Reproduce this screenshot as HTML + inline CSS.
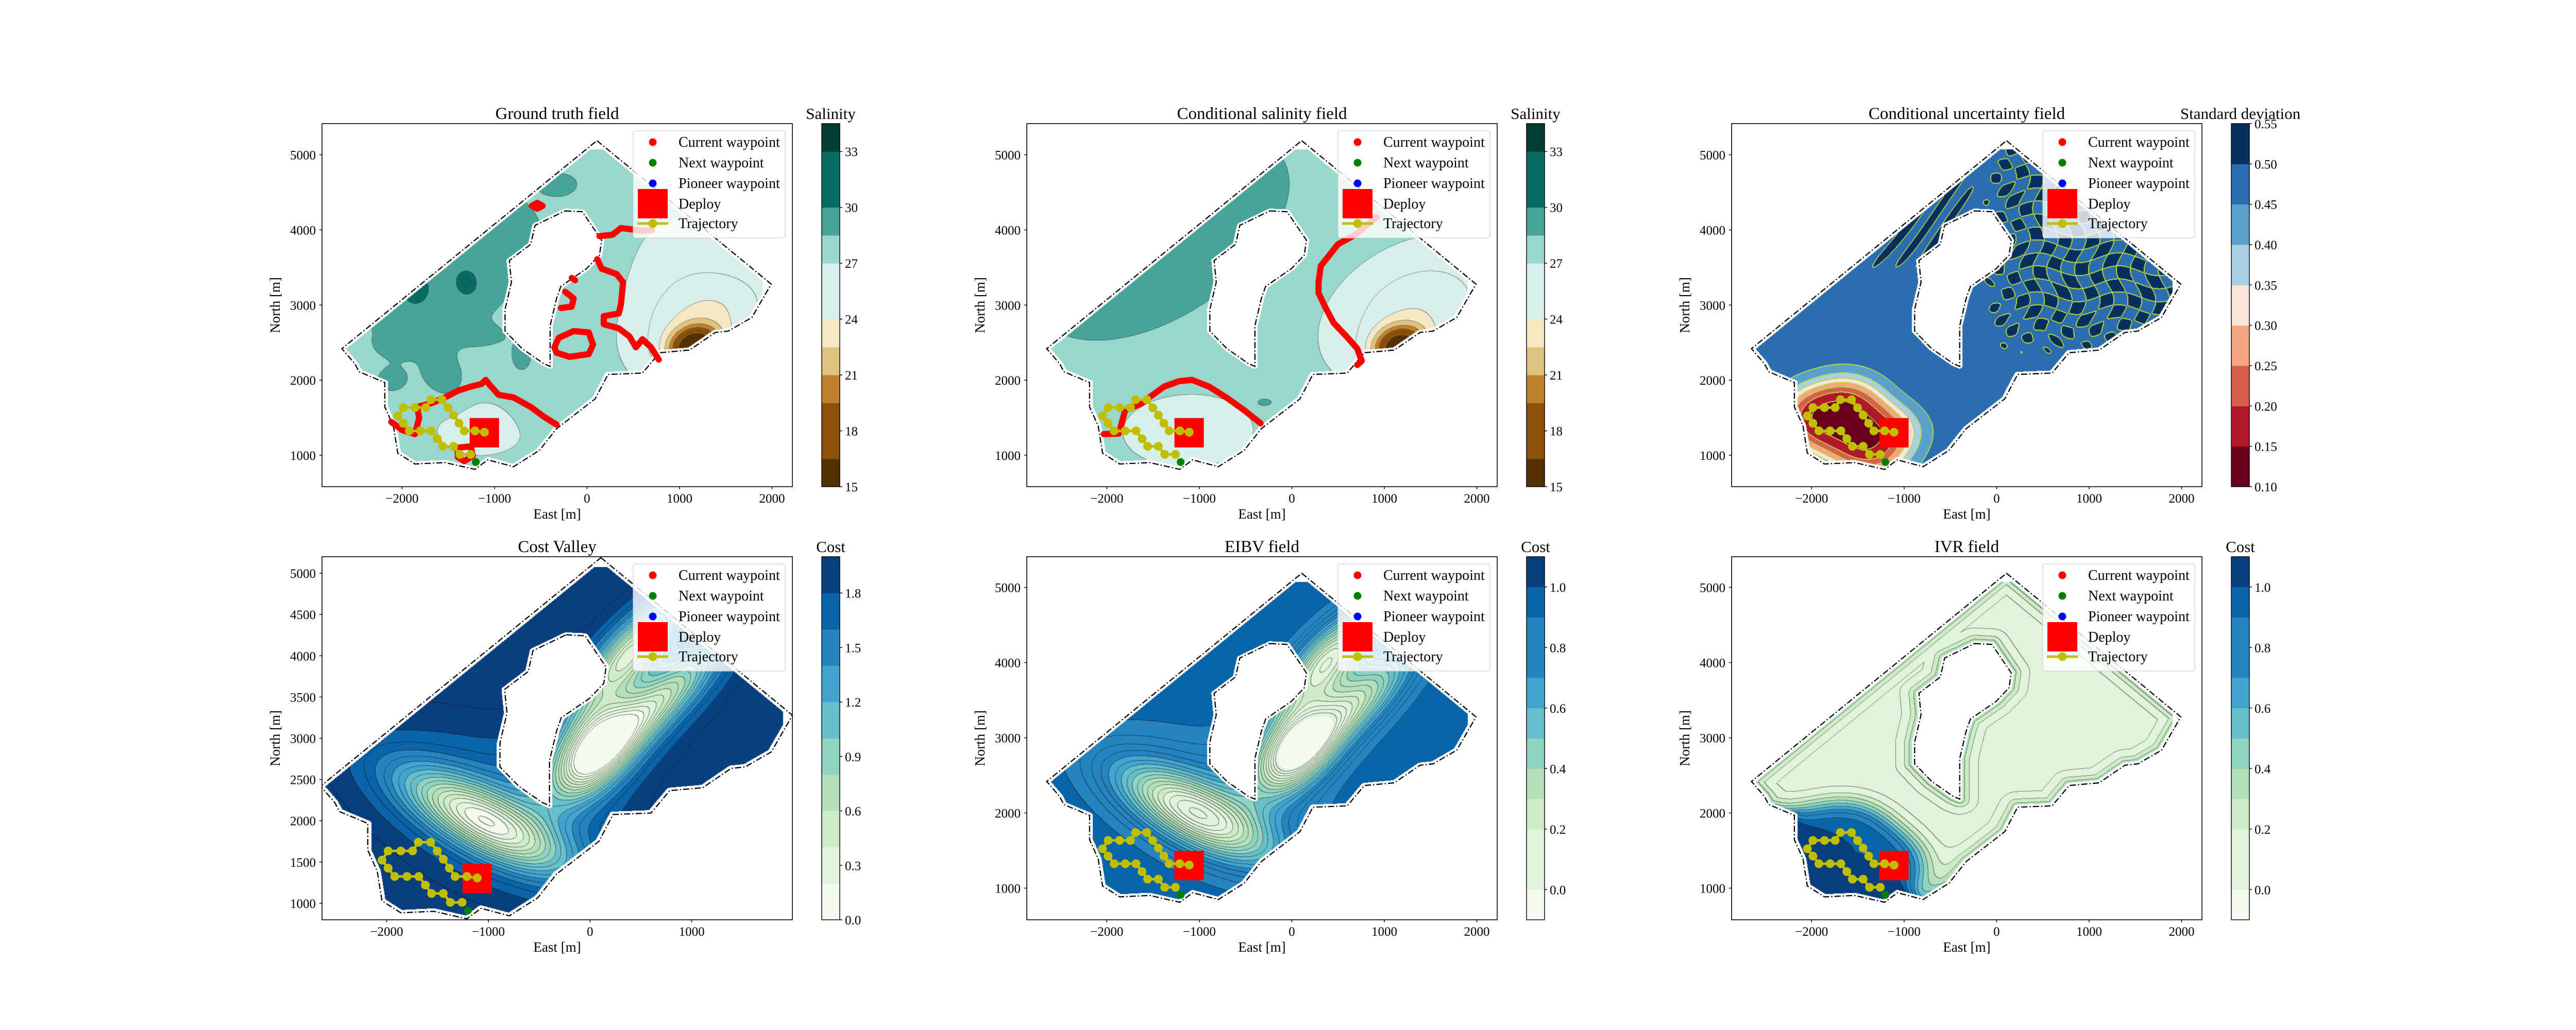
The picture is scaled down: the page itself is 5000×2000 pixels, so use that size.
<!DOCTYPE html>
<html><head><meta charset="utf-8">
<style>
html,body{margin:0;padding:0;background:#fff;}
#wrap{position:relative;width:5000px;height:2000px;overflow:hidden;}
#fld{position:absolute;left:0;top:0;}
#ov{position:absolute;left:0;top:0;}
text{font-family:"Liberation Serif","DejaVu Serif",serif;fill:#000;}
</style></head>
<body>
<div id="wrap">
<canvas id="fld" width="5000" height="2000"></canvas>
<svg id="ov" width="5000" height="2000" xmlns="http://www.w3.org/2000/svg"></svg>
</div>
<script>
// ---------- data ----------
const OUTER=[[107,5188],[1991,3278],[1782,2834],[1527,2653],[1387,2635],[1109,2401],[784,2365],[599,2094],[227,2076],[88,1751],[-329,1354],[-515,1065],[-794,848],[-1072,939],[-1211,812],[-1536,903],[-1861,884],[-2046,1029],[-2093,1390],[-2186,1643],[-2186,1968],[-2464,2112],[-2510,2220],[-2650,2419]];
const HOLE=[[-237,4253],[-51,4242],[158,3863],[135,3664],[-5,3484],[-283,3249],[-329,3087],[-399,2726],[-399,2184],[-469,2220],[-701,2419],[-886,2653],[-886,2942],[-817,3303],[-840,3592],[-608,3809],[-562,4061]];
const TRAJ_E=[-1109,-1211,-1327,-1383,-1443,-1503,-1568,-1689,-1745,-1861,-1986,-2046,-1986,-1921,-1800,-1684,-1619,-1559,-1443,-1374,-1258];
const TRAJ_N=[1307,1325,1325,1426,1534,1632,1740,1740,1635,1635,1635,1523,1426,1325,1325,1325,1220,1119,1119,1011,1011];
const DEPLOY=[-1110,1300];
const NEXT_WP=[-1202,910];
const LEGEND_LABELS=['Current waypoint','Next waypoint','Pioneer waypoint','Deploy','Trajectory'];
const GT_RED=[
 [[-2116,1444],[-2000,1336],[-1861,1282],[-1814,1498],[-1838,1643],[-1675,1697],[-1536,1769],[-1397,1859],[-1258,1913],[-1142,1949],[-1095,2004],[-1049,1931],[-956,1805],[-794,1769],[-608,1643],[-469,1516],[-329,1408]],
 [[-1397,1101],[-1258,1119],[-1234,993],[-1327,921],[-1397,975],[-1397,1101]],
 [[111,3610],[158,3484],[320,3412],[390,3303],[367,3014],[343,2888],[181,2852],[181,2744],[343,2690],[459,2581],[529,2437],[599,2545],[691,2437],[775,2274]],
 [[135,3917],[274,3935],[367,4025],[483,4007],[599,3989],[700,3995]],
 [[-329,2365],[-190,2310],[19,2347],[65,2473],[19,2635],[-144,2653],[-306,2563],[-353,2437],[-329,2365]],
 [[-237,3177],[-144,3087],[-167,2978],[-283,2960]],
 [[-165,3360],[-130,3330]],
 [[-538,4360],[-480,4321],[-538,4282],[-596,4321],[-538,4360]]
];
const CS_RED=[
 [[-2033,1282],[-1870,1289],[-1824,1498],[-1801,1606],[-1638,1679],[-1522,1787],[-1382,1913],[-1220,1986],[-1080,2004],[-894,1913],[-708,1769],[-522,1606],[-337,1426]],
 [[917,4170],[685,3935],[499,3809],[406,3664],[313,3520],[289,3303],[289,3159],[359,2978],[452,2762],[592,2581],[708,2419],[755,2256],[708,2202]]
];
// field bumps: [E, N, amplitude, sigmaU, sigmaV, angleDeg]
const GT_BUMPS=[[1170,2430,-13,190,170,40],[1350,2800,-3.2,600,400,40],[1000,3250,-1.5,500,900,0],[-1150,1350,-1.6,450,330,0],
 [-1500,3400,1.3,600,350,50],[-1900,2800,1.0,300,250,0],[-2100,2000,1.0,150,150,0],[-1650,2200,1.0,120,300,0],[-1000,3750,1.0,200,300,0],
 [-300,4600,1.0,200,150,0],[-1150,2600,0.9,250,150,0],[-700,2300,0.8,120,180,0],[-550,1600,1.0,150,300,30],[-1700,3700,1.0,250,300,0],[-1100,4300,0.8,200,200,0],[-1300,3300,3,60,80,0],
 [-2000,2450,1.0,200,120,0],[-1450,1950,1.0,130,250,0],[-1200,3050,1.0,250,150,30],[-1900,3200,1.0,150,150,0],[-700,4000,0.9,150,250,0],[-250,4000,1.0,120,150,0]];
const CS_BUMPS=[[-1400,3900,1.7,1500,850,45],[-1150,1350,-1.8,500,350,0],[1170,2430,-12,200,180,40],[1350,2900,-3.4,650,500,40],[-300,1700,1.5,100,60,0]];
const CV_VALLEYS=[[-1050,2000,1.45,650,240,-35],[50,2850,1.75,430,230,60],[400,4050,1.4,550,180,55],[700,3450,1.1,650,180,50],[-900,2100,0.4,900,500,-35],[250,3300,0.35,900,400,55]];
const EI_VALLEYS=[[-1050,2000,0.7,650,260,-35],[50,2850,0.85,430,240,60],[400,4050,0.68,550,200,55],[700,3450,0.5,650,200,50],[-900,2100,0.2,900,500,-35],[250,3300,0.2,900,400,55]];
const SAL_BANDS=[[15,16.5,'#543005'],[16.5,19.5,'#8c510a'],[19.5,21,'#bf812d'],[21,22.5,'#dfc27d'],[22.5,24,'#f6e8c3'],[24,27,'#d8eeeb'],[27,28.5,'#99d7cd'],[28.5,30,'#48a398'],[30,33,'#076b63'],[33,34.5,'#023c32']];
const STD_BANDS=[[0.10,0.15,'#67001f'],[0.15,0.20,'#b2182b'],[0.20,0.25,'#d6604d'],[0.25,0.30,'#f4a582'],[0.30,0.35,'#f9e4da'],[0.35,0.40,'#a9cfe5'],[0.40,0.45,'#5aa0cd'],[0.45,0.50,'#2a6db0'],[0.50,0.55,'#08305f']];
const CV_BANDS=[[0,0.2,'#f4fbee'],[0.2,0.4,'#e0f3db'],[0.4,0.6,'#cdebc6'],[0.6,0.8,'#b3e0bb'],[0.8,1.0,'#8fd4c2'],[1.0,1.2,'#66bfcb'],[1.2,1.4,'#41a5cf'],[1.4,1.6,'#2484bf'],[1.6,1.8,'#0a64a8'],[1.8,2.0,'#0a3f7f']];
const EI_BANDS=[[-0.1,0.0,'#f4fbee'],[0.0,0.2,'#e0f3db'],[0.2,0.3,'#cdebc6'],[0.3,0.4,'#b3e0bb'],[0.4,0.5,'#8fd4c2'],[0.5,0.6,'#66bfcb'],[0.6,0.7,'#41a5cf'],[0.7,0.9,'#2484bf'],[0.9,1.0,'#0a64a8'],[1.0,1.1,'#0a3f7f']];
const SAL_TICKS=[15,18,21,24,27,30,33];
const STD_TICKS=[0.10,0.15,0.20,0.25,0.30,0.35,0.40,0.45,0.50,0.55];
const CV_TICKS=[0.0,0.3,0.6,0.9,1.2,1.5,1.8];
const EI_TICKS=[0.0,0.2,0.4,0.6,0.8,1.0];
const X_TICKS=[-2000,-1000,0,1000,2000];
const X_TICKS_CV=[-2000,-1000,0,1000];
const Y_TICKS=[1000,2000,3000,4000,5000];
const Y_TICKS_CV=[1000,1500,2000,2500,3000,3500,4000,4500,5000];
const SAL_LINES=[16.5,18,19.5,21,22.5,24,25.5,27,28.5,30,31.5,33];
const STD_LINES=[0.15,0.2,0.25,0.3,0.35,0.4,0.45,0.5];
const CV_LINES=[0.1,0.2,0.3,0.4,0.5,0.6,0.7,0.8,0.9,1.0,1.1,1.2,1.3,1.4,1.5,1.6,1.7,1.8,1.9];
const EI_LINES=[0.05,0.1,0.15,0.2,0.25,0.3,0.35,0.4,0.45,0.5,0.55,0.6,0.65,0.7,0.75,0.8,0.85,0.9,0.95,1.0];
const IVR_LINES=[0.1,0.2,0.3,0.4,0.5,0.6,0.7,0.8,0.9,1.0];

// ---------- helpers ----------
const rad=Math.PI/180;
const prep=B=>B.map(b=>({e:b[0],n:b[1],a:b[2],su:2*b[3]*b[3],sv:2*b[4]*b[4],c:Math.cos(b[5]*rad),s:Math.sin(b[5]*rad)}));
function bumps(E,N,P){let t=0;for(const b of P){const dx=E-b.e,dy=N-b.n;const u=dx*b.c+dy*b.s,v=-dx*b.s+dy*b.c;t+=b.a*Math.exp(-(u*u/b.su+v*v/b.sv));}return t;}
function inPoly(x,y,P){let c=false;for(let i=0,j=P.length-1;i<P.length;j=i++){const xi=P[i][0],yi=P[i][1],xj=P[j][0],yj=P[j][1];if(((yi>y)!=(yj>y))&&(x<(xj-xi)*(y-yi)/(yj-yi)+xi))c=!c;}return c;}
function segD2(x,y,P){let m=Infinity;for(let i=0,j=P.length-1;i<P.length;j=i++){const ax=P[j][0],ay=P[j][1],dx=P[i][0]-ax,dy=P[i][1]-ay;let t=((x-ax)*dx+(y-ay)*dy)/(dx*dx+dy*dy);t=t<0?0:t>1?1:t;const ex=ax+t*dx-x,ey=ay+t*dy-y,d=ex*ex+ey*ey;if(d<m)m=d;}return m;}
const hex=h=>[parseInt(h.substr(1,2),16),parseInt(h.substr(3,2),16),parseInt(h.substr(5,2),16)];
function trajSum(E,N,sig2){let s=0;for(let k=0;k<TRAJ_E.length;k++){const dx=E-TRAJ_E[k],dy=N-TRAJ_N[k];s+=Math.exp(-(dx*dx+dy*dy)/sig2);}return s;}
const sg=x=>1/(1+Math.exp(-x));

const pGT=prep(GT_BUMPS),pCS=prep(CS_BUMPS),pCV=prep(CV_VALLEYS),pEI=prep(EI_VALLEYS);
const FIELDS={
 gt:(E,N)=>27.9+bumps(E,N,pGT),
 cs:(E,N)=>27.6+bumps(E,N,pCS),
 std:(E,N,d)=>{
   const nz=Math.sin(E/48+1.3*Math.sin(N/130))*Math.sin(N/55+1.2*Math.cos(E/140));
   const m1=sg((E+150)/120)*sg((N-2350)/150);
   const nz2=Math.sin((N-1.6*E)/55+0.8*Math.sin(E/200));
   const m2=sg((N-3500)/120)*sg((-E-250)/80)*sg((450-d)/60);
   let f=0.47+0.06*Math.max(m1*(0.5+0.5*nz),m2*(0.5+0.5*nz2));
   const s=trajSum(E,N,2*200*200);
   return f-0.38*(1-Math.exp(-0.35*s));
 },
 cv:(E,N)=>1.95-bumps(E,N,pCV),
 ei:(E,N)=>0.95-bumps(E,N,pEI),
 ivr:(E,N,d)=>{const s=trajSum(E,N,2*240*240);return 0.03+0.45*Math.exp(-d/110)+0.97*(1-Math.exp(-0.7*s));}
};

const TOP=[240,945],BOT=[1081,1786];
const XR=[-2865,2220],YR=[582,5415],YR2=[579,5408];
const PANELS=[
 {key:'gt',name:'ground-truth-panel',title:'Ground truth field',ax:[625,TOP[0],1538,TOP[1]],xr:XR,yr:YR,bands:SAL_BANDS,cbr:[15,34.5],ticks:SAL_TICKS,dec:0,cbl:'Salinity',lines:SAL_LINES,lc:'rgba(60,60,60,0.55)',xt:X_TICKS,yt:Y_TICKS,red:GT_RED},
 {key:'cs',name:'conditional-salinity-panel',title:'Conditional salinity field',ax:[1993,TOP[0],2906,TOP[1]],xr:XR,yr:YR,bands:SAL_BANDS,cbr:[15,34.5],ticks:SAL_TICKS,dec:0,cbl:'Salinity',lines:SAL_LINES,lc:'rgba(60,60,60,0.55)',xt:X_TICKS,yt:Y_TICKS,red:CS_RED},
 {key:'std',name:'uncertainty-panel',title:'Conditional uncertainty field',ax:[3361,TOP[0],4274,TOP[1]],xr:XR,yr:YR,bands:STD_BANDS,cbr:[0.10,0.55],ticks:STD_TICKS,dec:2,cbl:'Standard deviation',lines:STD_LINES,lc:'#b9d83a',wide:true,xt:X_TICKS,yt:Y_TICKS,red:[]},
 {key:'cv',name:'cost-valley-panel',title:'Cost Valley',ax:[625,BOT[0],1538,BOT[1]],xr:[-2636,1990],yr:[800,5200],bands:CV_BANDS,cbr:[0,2.0],ticks:CV_TICKS,dec:1,cbl:'Cost',lines:CV_LINES,lc:'rgba(20,20,20,0.6)',xt:X_TICKS_CV,yt:Y_TICKS_CV,red:[]},
 {key:'ei',name:'eibv-panel',title:'EIBV field',ax:[1993,BOT[0],2906,BOT[1]],xr:XR,yr:YR2,bands:EI_BANDS,cbr:[-0.1,1.1],ticks:EI_TICKS,dec:1,cbl:'Cost',lines:EI_LINES,lc:'rgba(20,20,20,0.6)',xt:X_TICKS,yt:Y_TICKS,red:[]},
 {key:'ivr',name:'ivr-panel',title:'IVR field',ax:[3361,BOT[0],4274,BOT[1]],xr:XR,yr:YR2,bands:EI_BANDS,cbr:[-0.1,1.1],ticks:EI_TICKS,dec:1,cbl:'Cost',lines:IVR_LINES,lc:'rgba(20,20,20,0.55)',xt:X_TICKS,yt:Y_TICKS,red:[]}
];

// ---------- field rendering ----------
const ctx=document.getElementById('fld').getContext('2d');
function levelIdx(v,L){let i=0;while(i<L.length&&v>=L[i])i++;return i;}
for(const P of PANELS){
  const [x0,y0,x1,y1]=P.ax;const W=Math.round(x1-x0),H=Math.round(y1-y0);
  const img=ctx.createImageData(W,H);const D=img.data;
  const bandRGB=P.bands.map(b=>hex(b[2]));
  const lvl=new Int16Array(W*H).fill(-1);
  const F=FIELDS[P.key];
  for(let j=0;j<H;j++){
    const N=P.yr[1]-(j+0.5)/H*(P.yr[1]-P.yr[0]);
    for(let i=0;i<W;i++){
      const E=P.xr[0]+(i+0.5)/W*(P.xr[1]-P.xr[0]);
      if(N>5075||E>1900)continue;
      if(!inPoly(E,N,OUTER))continue;
      if(inPoly(E,N,HOLE))continue;
      const dO=segD2(E,N,OUTER),dH=segD2(E,N,HOLE);
      if(dO<35*35||dH<30*30)continue;
      const d=Math.sqrt(Math.min(dO,dH));
      const v=F(E,N,d);
      let k=0;while(k<P.bands.length-1&&v>=P.bands[k][1])k++;
      const c=bandRGB[k];const o=(j*W+i)*4;
      D[o]=c[0];D[o+1]=c[1];D[o+2]=c[2];D[o+3]=255;
      lvl[j*W+i]=levelIdx(v,P.lines);
    }
  }
  const lcv=document.createElement('canvas').getContext('2d');lcv.fillStyle=P.lc;lcv.fillRect(0,0,1,1);
  const lc=lcv.getImageData(0,0,1,1).data;const la=lc[3]/255;
  const mark=(p)=>{const o=p*4;if(D[o+3]===0)return;D[o]=D[o]*(1-la)+lc[0]*la;D[o+1]=D[o+1]*(1-la)+lc[1]*la;D[o+2]=D[o+2]*(1-la)+lc[2]*la;};
  const marks=new Uint8Array(W*H);
  for(let j=0;j<H-1;j++)for(let i=0;i<W-1;i++){
    const p=j*W+i,a=lvl[p];if(a<0)continue;
    const r=lvl[p+1],b=lvl[p+W];
    if(r>=0&&r!==a){marks[p]=1;if(P.wide)marks[p+1]=1;}
    if(b>=0&&b!==a){marks[p]=1;if(P.wide)marks[p+W]=1;}
  }
  for(let p=0;p<W*H;p++)if(marks[p])mark(p);
  ctx.putImageData(img,Math.round(x0),Math.round(y0));
}

// ---------- SVG overlay ----------
const NS='http://www.w3.org/2000/svg';
const svg=document.getElementById('ov');
function el(tag,attrs,parent){const e=document.createElementNS(NS,tag);for(const k in attrs)e.setAttribute(k,attrs[k]);(parent||svg).appendChild(e);return e;}
const fmt=(v,d)=>{const s=Math.abs(v).toFixed(d);return v<0?'\u2212'+s:s;};

PANELS.forEach((P,pi)=>{
  const [x0,y0,x1,y1]=P.ax;
  const sx=E=>x0+(E-P.xr[0])/(P.xr[1]-P.xr[0])*(x1-x0);
  const sy=N=>y1-(N-P.yr[0])/(P.yr[1]-P.yr[0])*(y1-y0);
  const g=el('g',{});
  
  
  const cp=el('clipPath',{id:'clip'+pi},g);el('rect',{x:x0,y:y0,width:x1-x0,height:y1-y0},cp);
  const inner=el('g',{'clip-path':'url(#clip'+pi+')'},g);
  const toPts=A=>A.map(p=>sx(p[0]).toFixed(1)+','+sy(p[1]).toFixed(1)).join(' ');
  const ob=el('polygon',{points:toPts(OUTER),fill:'none',stroke:'#000','stroke-width':2.3,'stroke-dasharray':'12,4,2.5,4'},inner);
  
  
  const hb=el('polygon',{points:toPts(HOLE),fill:'none',stroke:'#000','stroke-width':2.3,'stroke-dasharray':'12,4,2.5,4'},inner);
  
  
  P.red.forEach(line=>{
    const r=el('polyline',{points:toPts(line),fill:'none',stroke:'#ff0000','stroke-width':12,'stroke-linecap':'round','stroke-linejoin':'round'},inner);
    
    
  });
  const dp=el('rect',{x:sx(DEPLOY[0])-28.5,y:sy(DEPLOY[1])-28.5,width:57,height:57,fill:'#ff0000'},inner);
  
  
  const tp=TRAJ_E.map((e,k)=>[e,TRAJ_N[k]]);
  const tl=el('polyline',{points:toPts(tp),fill:'none',stroke:'#bfbf00','stroke-width':5},inner);
  
  
  tp.forEach(p=>{const c=el('ellipse',{cx:sx(p[0]),cy:sy(p[1]),rx:8.5,ry:8.5,fill:'#bfbf00'},inner);
    
    });
  const nw=el('circle',{cx:sx(NEXT_WP[0]),cy:sy(NEXT_WP[1]),r:7.5,fill:'#008000'},inner);
  
  
  const fr=el('rect',{x:x0,y:y0,width:x1-x0,height:y1-y0,fill:'none',stroke:'#000','stroke-width':1.6},g);
  
  
  P.xt.forEach(v=>{const x=sx(v);el('line',{x1:x,x2:x,y1:y1,y2:y1+5,stroke:'#000','stroke-width':1.4},g);
    const t=el('text',{x:x,y:y1+31,'font-size':25,'text-anchor':'middle'},g);t.textContent=fmt(v,0);
    
    });
  P.yt.forEach(v=>{const y=sy(v);el('line',{x1:x0-5,x2:x0,y1:y,y2:y,stroke:'#000','stroke-width':1.4},g);
    const t=el('text',{x:x0-12,y:y+9,'font-size':25,'text-anchor':'end'},g);t.textContent=fmt(v,0);
    
    });
  const xl=el('text',{x:(x0+x1)/2,y:y1+62,'font-size':27,'text-anchor':'middle'},g);xl.textContent='East [m]';
  
  
  const ycx=x0-82,ycy=(y0+y1)/2;
  const yl=el('text',{x:ycx,y:ycy,'font-size':27,'text-anchor':'middle',transform:'rotate(-90 '+ycx+' '+ycy+')'},g);yl.textContent='North [m]';
  
  
  const tt=el('text',{x:(x0+x1)/2,y:y0-9,'font-size':33,'text-anchor':'middle'},g);tt.textContent=P.title;
  
  
  const lx=x1-309,ly=y0+14;
  const lg=el('g',{},g);
  
  
  el('rect',{x:lx,y:ly,width:295,height:208,rx:5,fill:'#fff','fill-opacity':0.8,stroke:'#d0d0d0','stroke-width':1.2},lg);
  const rows=[22,62,102,142,180];
  const colors=['#ff0000','#008000','#0000ff'];
  LEGEND_LABELS.forEach((lab,k)=>{
    const yy=ly+rows[k];
    if(k<3){const m=el('circle',{cx:lx+38,cy:yy,r:7.5,fill:colors[k]},lg);
      
      }
    if(k===3){const m=el('rect',{x:lx+9,y:ly+113,width:58,height:57,fill:'#ff0000'},lg);
      
      }
    if(k===4){el('line',{x1:lx+8,x2:lx+68,y1:yy,y2:yy,stroke:'#bfbf00','stroke-width':5},lg);
      const m=el('circle',{cx:lx+38,cy:yy,r:8.5,fill:'#bfbf00'},lg);
      
      }
    const t=el('text',{x:lx+88,y:yy+9,'font-size':28},lg);t.textContent=lab;
    
    
  });
  const c0=x1+57,c1=x1+92;
  const cy=v=>y1-(v-P.cbr[0])/(P.cbr[1]-P.cbr[0])*(y1-y0);
  const cb=el('g',{},g);
  
  
  P.bands.forEach(b=>{const r=el('rect',{x:c0,y:cy(b[1]),width:c1-c0,height:cy(b[0])-cy(b[1])+0.5,fill:b[2]},cb);
    
    });
  el('rect',{x:c0,y:y0,width:c1-c0,height:y1-y0,fill:'none',stroke:'#000','stroke-width':1.4},cb);
  P.ticks.forEach(v=>{const y=cy(v);el('line',{x1:c1,x2:c1+5,y1:y,y2:y,stroke:'#000','stroke-width':1.4},cb);
    const t=el('text',{x:c1+10,y:y+9,'font-size':25},cb);t.textContent=fmt(v,P.dec);
    
    });
  const ct=el('text',{x:(c0+c1)/2,y:y0-9,'font-size':31,'text-anchor':'middle'},cb);ct.textContent=P.cbl;
  
  
});
</script>
</body></html>
